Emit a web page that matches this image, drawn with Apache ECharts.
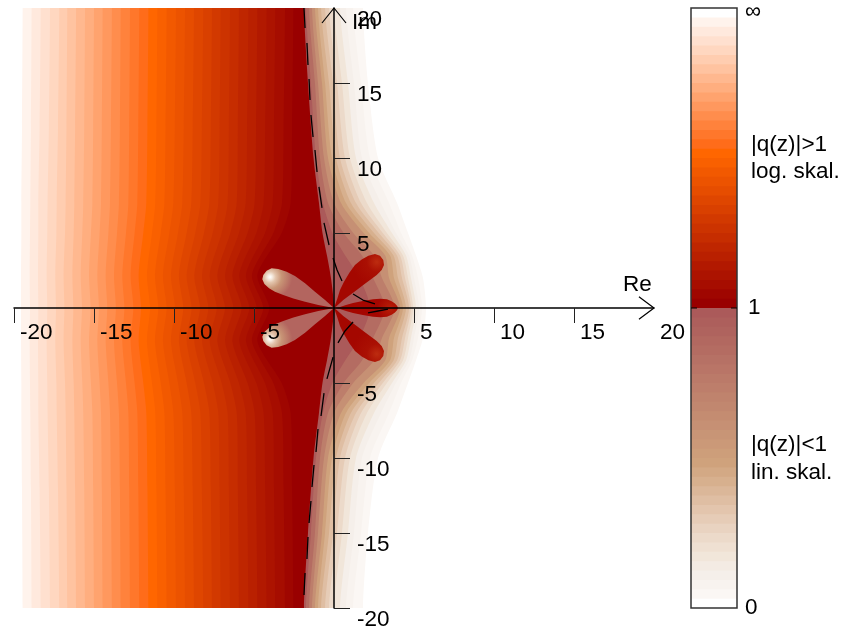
<!DOCTYPE html>
<html><head><meta charset="utf-8">
<style>html,body{margin:0;padding:0;background:#fff}#c{width:845px;height:632px}</style>
<script src="https://cdn.jsdelivr.net/npm/echarts@6/dist/echarts.min.js"></script>
</head><body><div id="c"></div>
<script>
// colour scale, top (infinity) to 1, then 1 to 0
const colorsAbove=['#ffffff','#fff3ec','#ffe9dd','#ffe0cf','#ffd7c0','#ffcdb0','#ffc3a0','#ffb88f','#ffae7f','#ffa36e','#ff985e','#ff8d4d','#ff823c','#ff772b','#ff6c1a','#ff6600','#f96000','#f25900','#ec5300','#e64d00','#df4600','#d94000','#d23900','#cc3300','#c62d00','#bf2600','#b92000','#b21900','#ac1300','#a60d00','#9f0600','#990000'];
const colorsBelow=['#ab5a5a','#ad5f5c','#af635e','#b26860','#b46c62','#b67165','#b97567','#bb7a69','#bd7e6b','#bf836d','#c1876f','#c48c71','#c69074','#c89576','#cb9978','#cd9e7a','#cfa27c','#d3a985','#d7b08e','#dbb799','#dfbea3','#e3c5ad','#e6ccb7','#e9d3c1','#ecdaca','#efe0d2','#f1e6da','#f3ebe3','#f5efea','#f8f3ef','#fbf7f4','#ffffff'];

// |q|>1 side: x position of each level contour on rows of Im
const leftRowsIm=[20,12,7,5,2.2,0];
const leftAt20=[-19.46,-18.90,-18.33,-17.75,-17.17,-16.67,-16.12,-15.56,-15.0,-14.46,-13.88,-13.33,-12.75,-12.17,-11.6,-11.04,-10.46,-9.875,-9.31,-8.75,-8.17,-7.625,-7.08,-6.5,-5.94,-5.35,-4.79,-4.21,-3.67,-3.06,-2.54];
const leftAt12=[-19.50,-18.94,-18.40,-17.82,-17.25,-16.72,-16.18,-15.61,-15.05,-14.51,-13.94,-13.38,-12.80,-12.23,-11.66,-11.10,-10.53,-9.95,-9.39,-8.83,-8.26,-7.70,-7.15,-6.57,-6.01,-5.43,-4.87,-4.30,-3.75,-3.15,-2.62];
const leftAt7=[-19.54,-18.98,-18.48,-17.90,-17.33,-16.77,-16.23,-15.67,-15.10,-14.56,-14.0,-13.44,-12.85,-12.29,-11.73,-11.17,-10.60,-10.04,-9.48,-8.92,-8.35,-7.79,-7.23,-6.65,-6.08,-5.52,-4.96,-4.40,-3.83,-3.25,-2.71];
const leftAt5=[-19.54,-19.0,-18.48,-17.92,-17.35,-16.81,-16.27,-15.73,-15.19,-14.65,-14.10,-13.56,-13.0,-12.46,-11.92,-11.375,-10.83,-10.29,-9.75,-9.21,-8.67,-8.125,-7.58,-7.02,-6.48,-5.94,-5.40,-4.85,-4.31,-3.79,-3.27];
const leftAt2=[-19.56,-19.02,-18.5,-17.96,-17.42,-16.9,-16.35,-15.83,-15.31,-14.79,-14.27,-13.75,-13.23,-12.71,-12.21,-11.69,-11.19,-10.69,-10.19,-9.69,-9.21,-8.73,-8.25,-7.77,-7.29,-6.81,-6.35,-5.92,-5.5,-5.125,-4.79];
const leftAt0=[-19.56,-19.0,-18.48,-17.92,-17.375,-16.85,-16.29,-15.75,-15.21,-14.69,-14.17,-13.63,-13.10,-12.54,-12.06,-11.5,-10.98,-10.46,-9.94,-9.42,-8.9,-8.375,-7.85,-7.33,-6.81,-6.29,-5.77,-5.29,-4.83,-4.42,-4.04];
const leftRows=[leftAt20,leftAt12,leftAt7,leftAt5,leftAt2,leftAt0];

// |q|<1 side: contours (first one is |q|=1), colour index into colorsBelow
const rightLevels=[0,4,8,12,16,18,20,22,24,26,28,29,30,31];
const rightRowsIm=[20,15,10,7,5,3.5,2,0];
const rightAt20=[-1.875,-1.75,-1.56,-1.375,-1.19,-1.0,-.81,-.56,-.31,0,.375,.75,1.19,1.81];
const rightAt15=[-1.625,-1.44,-1.19,-1,-.75,-.56,-.31,-.06,.19,.5,.875,1.25,1.69,2.125];
const rightAt10=[-1.28,-1.125,-.875,-.625,-.375,-.125,.125,.375,.69,1,1.375,1.75,2.25,2.75];
const rightAt7=[-.94,-.69,-.375,0,.44,.75,1.06,1.375,1.69,2.06,2.5,2.94,3.44,3.94];
const rightAt5=[-.72,-.1,.6,1.2,1.85,2.2,2.5,2.8,3.05,3.31,3.625,3.875,4.19,4.625];
const rightAt3=[-.44,.7,1.75,2.5,3.2,3.5,3.72,3.94,4.125,4.31,4.5,4.69,4.875,5.125];
const rightAt2=[-.19,1.6,2.44,3,3.44,3.75,4,4.25,4.44,4.625,4.81,5,5.25,5.56];
const rightAt0=[0,2.25,3.19,3.8,4.125,4.31,4.5,4.69,4.81,4.94,5.125,5.31,5.5,5.75];
const rightRows=[rightAt20,rightAt15,rightAt10,rightAt7,rightAt5,rightAt3,rightAt2,rightAt0];

// petals (outlines, [Re, Im])
const petalUpperRight=[[0,0],[.21,.64],[.375,1.2],[.625,1.75],[.96,2.35],[1.31,2.87],[1.73,3.24],[2.15,3.49],[2.56,3.6],[2.875,3.49],[3.08,3.2],[3.125,2.87],[2.98,2.53],[2.67,2.2],[2.25,1.87],[1.83,1.53],[1.42,1.2],[1,.87],[.58,.53],[.17,.13]];
const petalReal=[[0,0],[.375,.07],[.75,.2],[1.19,.33],[1.8,.47],[2.44,.58],[2.9,.62],[3.31,.58],[3.6,.45],[3.81,.3],[3.95,.13],[4,0],[3.95,-.13],[3.81,-.3],[3.6,-.45],[3.31,-.58],[2.9,-.62],[2.44,-.58],[1.8,-.47],[1.19,-.33],[.75,-.2],[.375,-.07]];
const petalUpperLeft=[[0,0],[-.56,.53],[-1.19,1.09],[-1.81,1.65],[-2.44,2.13],[-2.96,2.42],[-3.48,2.6],[-3.9,2.65],[-4.21,2.49],[-4.42,2.2],[-4.48,1.91],[-4.35,1.6],[-4.06,1.31],[-3.69,1.09],[-3.17,.87],[-2.54,.64],[-1.81,.42],[-.98,.2]];

// dashed locus, null separates the dashes
const dashRe=[-1.875,-1.81,null,-1.69,-1.625,null,-1.56,-1.5,null,-1.44,-1.31,null,-1.19,-1.06,null,-.94,-.75,null,-.625,-.31,null,-.06,.19,.5,null,1.19,1.81,2.56,null,2.125,2.75,3.375,null,1.19,.69,.25,null,-.06,-.44,null,-.625,-.81,null,-1,-1.125,null,-1.25,-1.375,null,-1.44,-1.56,null,-1.625,-1.69,null,-1.81,-1.875];
const dashIm=[20,18.67,null,17.67,16.2,null,15.27,13.87,null,12.87,11.4,null,10.53,9.07,null,8.07,6.67,null,5.67,4.2,null,3.33,2.53,1.8,null,.93,.53,.27,null,-.33,-.2,-.07,null,-.93,-1.53,-2.33,null,-3.27,-4.73,null,-5.67,-7.2,null,-8.07,-9.6,null,-10.47,-11.93,null,-12.87,-14.33,null,-15.27,-16.73,null,-17.67,-19.13];

const tickValues=[-20,-15,-10,-5,5,10,15];
const arrowRe=[[19.06,.75],[20,0],[19.06,-.75]];
const arrowIm=[[-.75,19],[0,20],[.75,19]];

const FONT='"Liberation Sans",Arial,sans-serif', FS=22.5;

function contour(rowsX,rowsY,j){ // whole height from the upper half rows, carried past the clipped top and bottom
  const pts=[[rowsX[0][j],30],...rowsY.map((y,i)=>[rowsX[i][j],y])];
  for(let i=rowsY.length-2;i>=0;i--) pts.push([rowsX[i][j],-rowsY[i]]);
  pts.push([rowsX[0][j],-30]);
  return pts;
}
const polys=[];
leftAt20.forEach((_,j)=>{
  const c=contour(leftRows,leftRowsIm,j);
  polys.push({pts:[...c,[3,-30],[3,30]],fill:colorsAbove[j+1],smooth:.25});
});
rightLevels.forEach((lv,j)=>{
  const c=contour(rightRows,rightRowsIm,j);
  polys.push({pts:[...c,[40,-30],[40,30]],fill:colorsBelow[lv],smooth:.25});
});
const mir=p=>p.map(([x,y])=>[x,-y]);
const rad=(x,y,r,st)=>({type:'radial',x,y,r,colorStops:st.map(([o,c])=>({offset:o,color:c}))});
const redStops=[[0,'#bd2c10'],[.2,'#aa1003'],[.5,'#a40700'],[1,'#a40700']];
const pinkStops=[[0,'#ffffff'],[.08,'#f6ece2'],[.2,'#e3c5ad'],[.42,'#c89576'],[.8,'#b3655f'],[1,'#b3655f']];
polys.push({pts:petalUpperRight,fill:rad(.857,.148,1,redStops)});
polys.push({pts:mir(petalUpperRight),fill:rad(.857,.852,1,redStops)});
polys.push({pts:petalReal,fill:rad(.875,.5,1,[[0,'#b81f08'],[.7,'#a50600'],[1,'#a50600']])});
polys.push({pts:petalUpperLeft,fill:rad(.107,.22,.7,pinkStops)});
polys.push({pts:mir(petalUpperLeft),fill:rad(.107,.78,.7,pinkStops)});

const barColors=[...colorsAbove,...colorsBelow];

const axisLbl=v=>v===0?'':String(v);
const chart=echarts.init(document.getElementById('c'),null,{renderer:'canvas'});
const txt=(x,y,t,fs)=>({type:'text',x,y,silent:true,z:50,style:{text:t,x:0,y:0,font:(fs||FS)+'px '+FONT,fill:'#000',textVerticalAlign:'middle'}});
chart.setOption({
  animation:false,
  backgroundColor:'#fff',
  grid:[{left:14,top:8,width:640,height:600,outerBoundsMode:'none',containLabel:false},{left:691,top:8,width:46,height:600,outerBoundsMode:'none'}],
  xAxis:[{type:'value',gridIndex:0,min:-20,max:20,interval:5,z:10,
      axisLine:{onZero:true,lineStyle:{color:'#000',width:1.5}},
      axisTick:{show:true,length:15,customValues:tickValues,lineStyle:{color:'#222',width:1}},
      splitLine:{show:false},
      axisLabel:{margin:-287,align:'left',padding:[0,0,0,6],color:'#000',fontFamily:FONT,fontSize:FS,formatter:axisLbl,showMinLabel:true,showMaxLabel:true}},
    {type:'value',gridIndex:1,min:0,max:1,show:false}],
  yAxis:[{type:'value',gridIndex:0,min:-20,max:20,interval:5,z:10,
      axisLine:{onZero:true,lineStyle:{color:'#000',width:1.5}},
      axisTick:{show:true,inside:true,length:16,customValues:tickValues,lineStyle:{color:'#222',width:1}},
      splitLine:{show:false},
      axisLabel:{inside:true,margin:343,align:'left',verticalAlign:'top',lineHeight:24,color:'#000',fontFamily:FONT,fontSize:FS,formatter:axisLbl,showMinLabel:true,showMaxLabel:true}},
    {type:'value',gridIndex:1,inverse:true,min:0,max:barColors.length,show:false}],
  series:[
    {type:'custom',xAxisIndex:0,yAxisIndex:0,silent:true,clip:true,z:2,data:polys.map((_,i)=>[i]),encode:{},
      renderItem:(p,api)=>{const o=polys[api.value(0)];
        return {type:'polygon',shape:{points:o.pts.map(q=>api.coord(q)),smooth:o.smooth||0},style:{fill:o.fill,stroke:null}};}},
    {type:'line',xAxisIndex:0,yAxisIndex:0,z:5,silent:true,symbol:'none',connectNulls:false,clip:false,
      data:dashRe.map((x,i)=>x===null?[null,null]:[x,dashIm[i]]),lineStyle:{color:'#000',width:1.3}},
    {type:'line',xAxisIndex:0,yAxisIndex:0,z:11,silent:true,symbol:'none',clip:false,data:arrowRe,lineStyle:{color:'#000',width:1.2}},
    {type:'line',xAxisIndex:0,yAxisIndex:0,z:11,silent:true,symbol:'none',clip:false,data:arrowIm,lineStyle:{color:'#000',width:1.2}},
    {type:'custom',xAxisIndex:1,yAxisIndex:1,silent:true,clip:true,z:2,data:barColors.map((_,i)=>[i]),encode:{},
      renderItem:(p,api)=>{const i=api.value(0);const a=api.coord([0,i]),b=api.coord([1,barColors.length]);
        return {type:'rect',shape:{x:a[0],y:a[1],width:b[0]-a[0],height:b[1]-a[1]},style:{fill:barColors[i],stroke:null}};}}
  ],
  graphic:[
    {type:'rect',silent:true,z:50,shape:{x:691,y:8,width:46,height:600},style:{fill:'none',stroke:'#333',lineWidth:1.5}},
    {type:'line',silent:true,z:50,shape:{x1:691,y1:308,x2:697,y2:308},style:{stroke:'#000',lineWidth:1}},
    {type:'line',silent:true,z:50,shape:{x1:731,y1:308,x2:737,y2:308},style:{stroke:'#000',lineWidth:1}},
    txt(745,12,'∞'),txt(748,308,'1'),txt(745,608,'0'),
    txt(751,145,'|q(z)|>1'),txt(751,172,'log. skal.'),
    txt(751,445,'|q(z)|<1'),txt(751,473,'lin. skal.'),
    txt(623,285,'Re'),txt(352,23,'Im')
  ]
});
</script></body></html>
